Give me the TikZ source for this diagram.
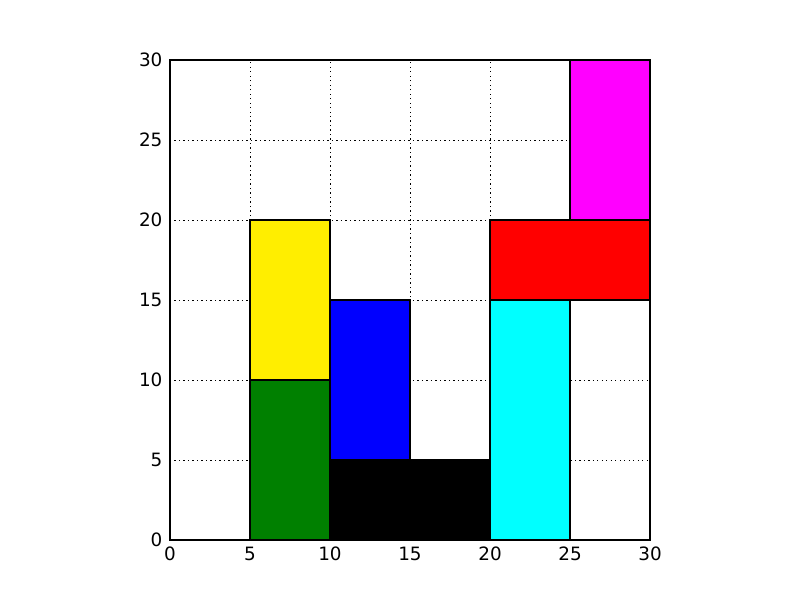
\documentclass[tikz,border=0pt]{standalone}
\usepackage{fontspec}
\setmainfont{DejaVu Sans}
\usepackage{xcolor}
\usetikzlibrary{positioning}

\definecolor{plotgreen}{RGB}{0,128,0}
\definecolor{plotyellow}{RGB}{255,238,0}
\definecolor{plotcyan}{RGB}{0,255,255}
\definecolor{plotmagenta}{RGB}{255,0,255}

\tikzset{
  gridline/.style={black,line width=0.4pt,dash pattern=on 0.6pt off 1.8pt},
  patch/.style={draw=black,line width=0.55pt},
  ticklabel/.style={inner sep=0pt,font=\fontsize{9.8}{11}\selectfont}
}

\begin{document}
\begin{tikzpicture}[x=0.3cm,y=0.3cm]
  \useasboundingbox (-10.625,-3.75) rectangle (39.375,33.75);
  \fill[white] (-10.625,-3.75) rectangle (39.375,33.75);
  % grid under the patches
  \foreach \v in {5,10,15,20,25}{
    \draw[gridline] (\v,0)--(\v,30);
    \draw[gridline] (0,\v)--(30,\v);
  }
  % patches
  \filldraw[patch,fill=plotgreen] (5,0) rectangle (10,10);
  \filldraw[patch,fill=plotyellow] (5,10) rectangle (10,20);
  \filldraw[patch,fill=blue] (10,5) rectangle (15,15);
  \filldraw[patch,fill=black] (10,0) rectangle (20,5);
  \filldraw[patch,fill=plotcyan] (20,0) rectangle (25,15);
  \filldraw[patch,fill=red] (20,15) rectangle (30,20);
  \filldraw[patch,fill=plotmagenta] (25,20) rectangle (30,30);
  % frame and tick labels
  \draw[line width=0.6pt] (0,0) rectangle (30,30);
  \foreach \v in {0,5,...,30}{
    \node[ticklabel,anchor=north] (xl\v) at (\v,-0.4) {\v};
    \node[ticklabel,anchor=east] (yl\v) at (-0.45,\v) {\v};
  }
\end{tikzpicture}
\end{document}
